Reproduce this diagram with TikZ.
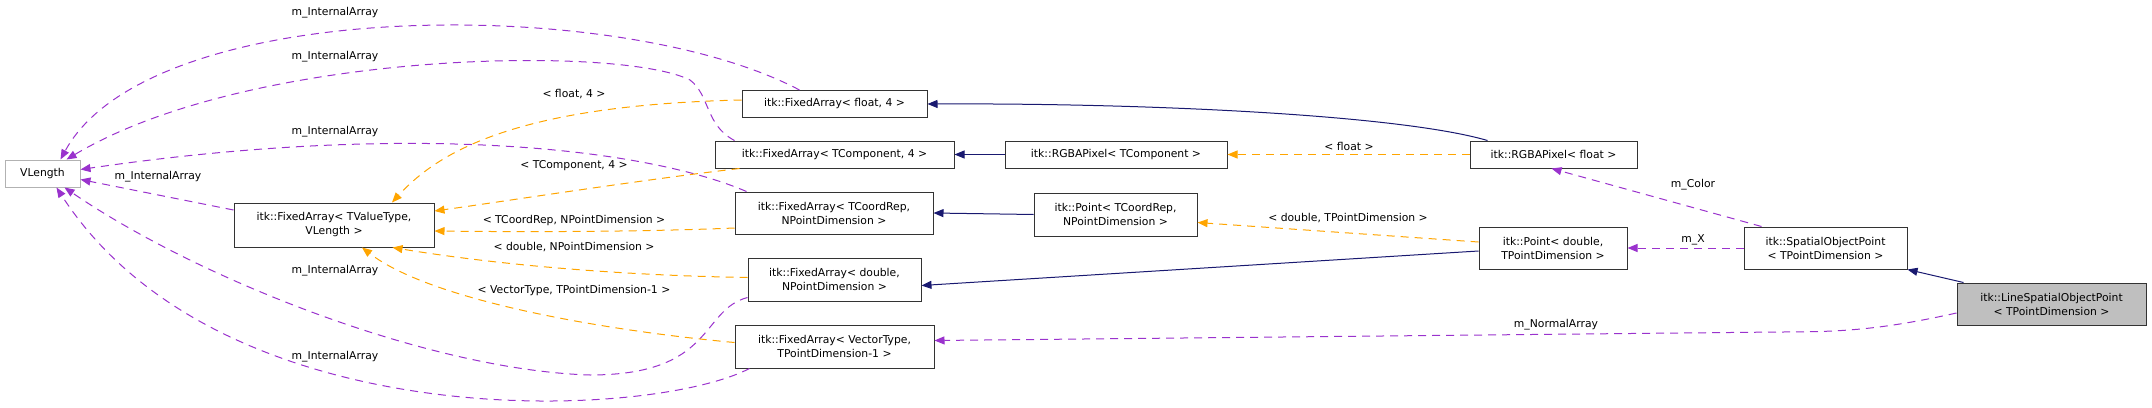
\documentclass[tikz,border=0pt]{standalone}
\usepackage{fontspec}
\setmainfont{DejaVu Sans}
\usetikzlibrary{arrows.meta}
\definecolor{pur}{HTML}{9A32CD}
\definecolor{org}{HTML}{FFA500}
\definecolor{nav}{HTML}{191970}
\begin{document}
\begin{tikzpicture}[x=0.5pt,y=-0.5pt,
  every node/.style={font=\fontsize{5.4}{7}\selectfont},
  box/.style={draw=black!80,line width=0.5pt,rectangle,inner sep=0pt,align=center,fill=white},
  lbl/.style={inner sep=0pt},
  tip/.style={-{Triangle[length=5pt,width=4pt]}},
  mem/.style={tip,pur,dashed,dash pattern=on 4pt off 3pt,line width=0.5pt},
  tpl/.style={tip,org,dashed,dash pattern=on 4pt off 3pt,line width=0.5pt},
  inh/.style={tip,nav,line width=0.5pt}]
\useasboundingbox (0,0) rectangle (2152,407);
\node[box,draw=black!30,minimum width=37.5pt,minimum height=13.5pt] (VL) at (42.5,173.5) {VLength};
\node[box,minimum width=100pt,minimum height=22pt] (TV) at (334,225) {itk::FixedArray< TValueType,\\ VLength >};
\node[box,minimum width=92.5pt,minimum height=13.5pt] (F4) at (834.5,104) {itk::FixedArray< float, 4 >};
\node[box,minimum width=119.5pt,minimum height=13.5pt] (TC4) at (834.5,154.5) {itk::FixedArray< TComponent, 4 >};
\node[box,minimum width=111pt,minimum height=13.5pt] (RT) at (1116,154.5) {itk::RGBAPixel< TComponent >};
\node[box,minimum width=99pt,minimum height=21pt] (TCR) at (834,213) {itk::FixedArray< TCoordRep,\\ NPointDimension >};
\node[box,minimum width=81.5pt,minimum height=21.5pt] (PTC) at (1115.5,214.5) {itk::Point< TCoordRep,\\ NPointDimension >};
\node[box,minimum width=86.5pt,minimum height=21.5pt] (FD) at (834.5,279.5) {itk::FixedArray< double,\\ NPointDimension >};
\node[box,minimum width=99.5pt,minimum height=21.5pt] (VT) at (834.5,346.5) {itk::FixedArray< VectorType,\\ TPointDimension-1 >};
\node[box,minimum width=83.5pt,minimum height=13.5pt] (RF) at (1553.5,154.5) {itk::RGBAPixel< float >};
\node[box,minimum width=74pt,minimum height=21pt] (PD) at (1553,248) {itk::Point< double,\\ TPointDimension >};
\node[box,minimum width=81.5pt,minimum height=21pt] (SOP) at (1825.5,248) {itk::SpatialObjectPoint\\ < TPointDimension >};
\node[box,fill=black!25,minimum width=94.5pt,minimum height=21pt] (LSP) at (2051.5,304) {itk::LineSpatialObjectPoint\\ < TPointDimension >};
% purple members to VLength
\draw[mem] (F4.north west)++(58,0) .. controls (620,-5) and (150,-5) .. ([xshift=-10pt]VL.north east);
\draw[mem] (TC4.north west)++(20,0) .. controls (705,125) and (710,95) .. (690,80) .. controls (620,45) and (250,50) .. ([xshift=-7pt]VL.north east);
\draw[mem] (TCR.north west)++(12,0) .. controls (650,150) and (420,120) .. ([yshift=2pt]VL.east);
\draw[mem] (TV.west)++(0,-15) -- ([yshift=-3pt]VL.east);
\draw[mem] (FD.west)++(0,18) .. controls (700,310) and (715,375) .. (590,375) .. controls (430,370) and (200,280) .. ([xshift=-8pt]VL.south east);
\draw[mem] (VT.south west)++(15,0) .. controls (650,420) and (220,440) .. ([xshift=-12pt]VL.south east);
\node[lbl] at (335,13) {m\_InternalArray};
\node[lbl] at (335,57) {m\_InternalArray};
\node[lbl] at (335,132) {m\_InternalArray};
\node[lbl] at (158,177) {m\_InternalArray};
\node[lbl] at (335,271) {m\_InternalArray};
\node[lbl] at (335,357) {m\_InternalArray};
% orange templates to TValueType
\draw[tpl] (F4.west)++(0,-4) .. controls (520,105) and (440,150) .. ([xshift=29pt]TV.north);
\draw[tpl] (TC4.south west)++(25,0) .. controls (640,180) and (500,202) .. ([yshift=7pt]TV.east);
\draw[tpl] (TCR.west)++(0,15) .. controls (640,232) and (520,232) .. ([yshift=-3pt]TV.east);
\draw[tpl] (FD.west)++(0,-2) .. controls (600,275) and (480,262) .. ([xshift=-21pt]TV.south east);
\draw[tpl] (VT.west)++(0,-4) .. controls (600,330) and (430,300) .. ([xshift=14pt]TV.south);
\node[lbl] at (574,94) {< float, 4 >};
\node[lbl] at (574,166) {< TComponent, 4 >};
\node[lbl] at (574,221) {< TCoordRep, NPointDimension >};
\node[lbl] at (574,247) {< double, NPointDimension >};
\node[lbl] at (574,291) {< VectorType, TPointDimension-1 >};
% inheritance
\draw[inh] (RF.north west)++(18,0) .. controls (1400,115) and (1150,103) .. (F4.east);
\draw[inh] (RT.west) -- (TC4.east);
\draw[inh] (PTC.west) -- (TCR.east);
\draw[inh] (PD.west)++(0,3) -- ([yshift=-3pt]FD.east);
\draw[inh] (LSP.north west)++(7,0) -- (SOP.south east);
% right side templates/members
\draw[tpl] (RF.west) -- (RT.east);
\node[lbl] at (1349,146) {< float >};
\draw[tpl] (PD.west)++(0,-6) -- ([yshift=-4pt]PTC.east);
\node[lbl] at (1348,218) {< double, TPointDimension >};
\draw[mem] (SOP.north)++(-64,0) -- ([xshift=-1pt]RF.south);
\node[lbl] at (1693,185) {m\_Color};
\draw[mem] (SOP.west) -- (PD.east);
\node[lbl] at (1693,240) {m\_X};
\draw[mem] (LSP.west)++(0,9) .. controls (1880,330) and (1840,332) .. (1780,332) -- ([yshift=3pt]VT.east);
\node[lbl] at (1556,325) {m\_NormalArray};
\end{tikzpicture}
\end{document}
